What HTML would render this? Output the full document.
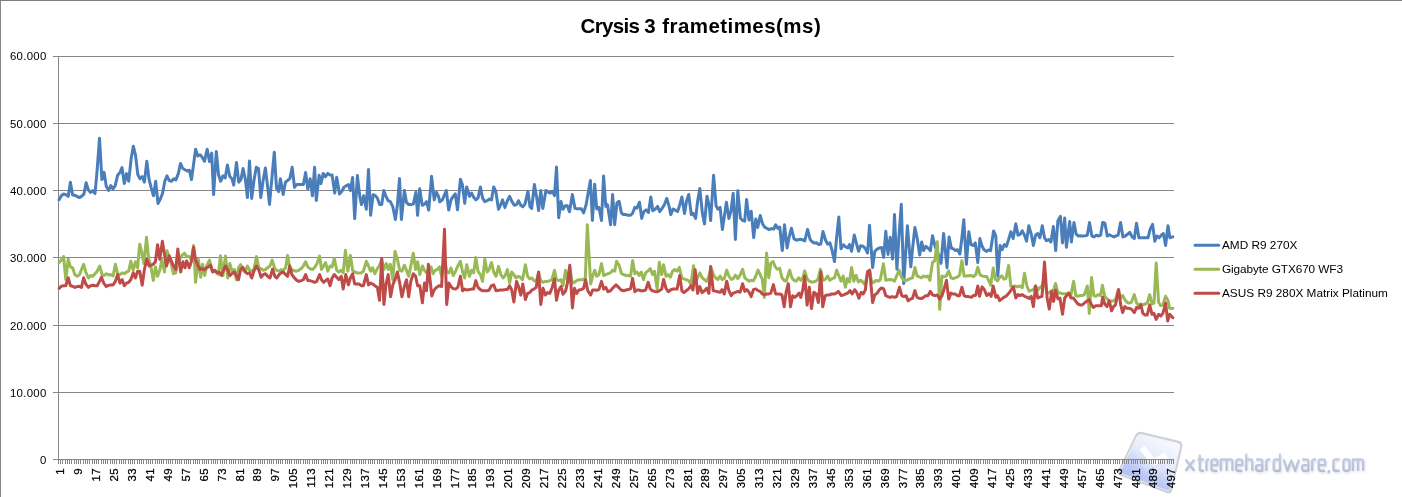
<!DOCTYPE html>
<html><head><meta charset="utf-8"><title>Crysis 3 frametimes(ms)</title>
<style>
html,body{margin:0;padding:0;background:#fff;}
body{width:1402px;height:497px;position:relative;overflow:hidden;font-family:"Liberation Sans",sans-serif;color:#000;}
#bt{position:absolute;left:0;top:0;width:1402px;height:1px;background:#7d7d7d;}
#bl{position:absolute;left:0;top:0;width:1px;height:497px;background:#868686;}
#txt{position:absolute;left:0;top:0;width:1402px;height:497px;will-change:transform;}
.tt{position:absolute;top:11.5px;font-weight:bold;font-size:20.5px;line-height:28px;white-space:nowrap;}
.yl{position:absolute;left:0;width:46.6px;text-align:right;font-size:11.4px;line-height:16px;height:16px;letter-spacing:0.3px;margin-right:-0.3px;}
svg{position:absolute;left:0;top:0;}
.grid line{stroke:#868686;stroke-width:1;shape-rendering:crispEdges;}
.ser{fill:none;stroke-width:3;stroke-linejoin:round;stroke-linecap:round;}
.xl text{font-size:11.4px;font-family:"Liberation Sans",sans-serif;fill:#000;stroke:#000;stroke-width:0.25px;letter-spacing:0.5px;}
.lg{position:absolute;left:1222px;font-size:11.8px;line-height:16px;white-space:nowrap;}
</style></head><body>
<svg width="1402" height="497" viewBox="0 0 1402 497">
<defs>
<linearGradient id="ig" gradientUnits="userSpaceOnUse" x1="1166" y1="436" x2="1136" y2="488"><stop offset="0" stop-color="#fafbfe"/><stop offset="0.42" stop-color="#e6ebfb"/><stop offset="0.72" stop-color="#bfcbf5"/><stop offset="1" stop-color="#adbbf0"/></linearGradient>
<linearGradient id="tg" gradientUnits="userSpaceOnUse" x1="0" y1="-6" x2="0" y2="14"><stop offset="0" stop-color="#cbd1e5"/><stop offset="1" stop-color="#b5bbd1"/></linearGradient>
<filter id="sb" x="-10%" y="-10%" width="120%" height="120%"><feGaussianBlur stdDeviation="0.45"/></filter>
<filter id="sb2" x="-10%" y="-30%" width="120%" height="160%"><feGaussianBlur stdDeviation="1.2"/></filter>
</defs>
<g filter="url(#sb)">
<path d="M1135.1,435.4 Q1137.3,430.9 1142.2,432.1 L1178.5,440.8 Q1183.4,442.0 1182.3,446.9 L1172.3,489.7 Q1171.2,494.6 1166.5,492.9 L1121.0,475.9 Q1116.3,474.2 1118.5,469.7 Z" fill="#cfd0d6"/>
<path d="M1136.8,436.8 Q1138.3,433.6 1141.7,434.4 L1177.2,443.0 Q1180.6,443.8 1179.8,447.2 L1170.2,488.2 Q1169.4,491.6 1166.1,490.4 L1122.9,474.2 Q1119.6,473.0 1121.1,469.8 Z" fill="url(#ig)" stroke="#eef0f8" stroke-width="0.8"/>
<g fill="none" stroke="#ffffff" stroke-width="6.2" stroke-linecap="butt">
<path d="M1142.2,447.6 L1153.8,462.6"/><path d="M1166.2,455.2 L1153.0,462.8"/>
<path d="M1153.8,462.6 L1159.5,472" opacity="0.22"/><path d="M1153.0,462.8 L1144,468.3" opacity="0.18"/>
</g>
</g>
<g fill="none" stroke="#dfe2ee" stroke-width="2.4" stroke-linejoin="round" filter="url(#sb2)" transform="translate(0.8,1.5)"><path transform="translate(1184.5,459)" d="M1.0,0.5 L9.900000000000091,11.75 M9.900000000000091,0.5 L1.0,11.75"/><path transform="translate(1197.4,459)" d="M2.37599999999994,-4.6 L2.37599999999994,9.75 Q2.37599999999994,11.75 4.37599999999994,11.75 L6.499999999999818,11.75 M0.0,0.5 L6.499999999999818,0.5"/><path transform="translate(1205.4,459)" d="M1.0,11.75 L1.0,2.5 Q1.0,0.5 3.0,0.5 L3.7999999999999545,0.5"/><path transform="translate(1210.4,459)" d="M7.0,11.75 L3.0,11.75 Q1.0,11.75 1.0,9.75 L1.0,2.5 Q1.0,0.5 3.0,0.5 L5.0,0.5 Q7.0,0.5 7.0,2.5 L7.0,6.1 L1.0,6.1"/><path transform="translate(1219.8,459)" d="M1.0,11.75 L1.0,0.5 L10.600000000000136,0.5 Q12.600000000000136,0.5 12.600000000000136,2.5 L12.600000000000136,11.75 M6.800000000000068,0.5 L6.800000000000068,11.75"/><path transform="translate(1235.2,459)" d="M7.099999999999909,11.75 L3.0,11.75 Q1.0,11.75 1.0,9.75 L1.0,2.5 Q1.0,0.5 3.0,0.5 L5.099999999999909,0.5 Q7.099999999999909,0.5 7.099999999999909,2.5 L7.099999999999909,6.1 L1.0,6.1"/><path transform="translate(1245.2,459)" d="M1.0,-5.6 L1.0,11.75 M1.0,0.5 L5.099999999999909,0.5 Q7.099999999999909,0.5 7.099999999999909,2.5 L7.099999999999909,11.75"/><path transform="translate(1255.1,459)" d="M1.0,0.5 L5.2000000000000455,0.5 Q7.2000000000000455,0.5 7.2000000000000455,2.5 L7.2000000000000455,11.75 L3.0,11.75 Q1.0,11.75 1.0,9.75 L1.0,8.1 Q1.0,6.1 3.0,6.1 L7.2000000000000455,6.1"/><path transform="translate(1265.3,459)" d="M1.0,11.75 L1.0,2.5 Q1.0,0.5 3.0,0.5 L4.900000000000091,0.5"/><path transform="translate(1272.7,459)" d="M7.2000000000000455,-5.6 L7.2000000000000455,11.75 L3.0,11.75 Q1.0,11.75 1.0,9.75 L1.0,2.5 Q1.0,0.5 3.0,0.5 L7.2000000000000455,0.5"/><path transform="translate(1282.7,459)" d="M1.0,0.5 L4.644000000000013,11.75 L8.600000000000023,1.5 L12.556000000000033,11.75 L16.200000000000045,0.5"/><path transform="translate(1301.2,459)" d="M1.0,0.5 L5.2000000000000455,0.5 Q7.2000000000000455,0.5 7.2000000000000455,2.5 L7.2000000000000455,11.75 L3.0,11.75 Q1.0,11.75 1.0,9.75 L1.0,8.1 Q1.0,6.1 3.0,6.1 L7.2000000000000455,6.1"/><path transform="translate(1311.2,459)" d="M1.0,11.75 L1.0,2.5 Q1.0,0.5 3.0,0.5 L4.899999999999864,0.5"/><path transform="translate(1317.7,459)" d="M7.399999999999864,11.75 L3.0,11.75 Q1.0,11.75 1.0,9.75 L1.0,2.5 Q1.0,0.5 3.0,0.5 L5.399999999999864,0.5 Q7.399999999999864,0.5 7.399999999999864,2.5 L7.399999999999864,6.1 L1.0,6.1"/><path transform="translate(1327.3,459)" d="M1.5500000000000682,11.15 L1.5500000000000682,12.15 L0.7500000000000682,13.95"/><path transform="translate(1332.4,459)" d="M7.199999999999818,0.5 L3.0,0.5 Q1.0,0.5 1.0,2.5 L1.0,9.75 Q1.0,11.75 3.0,11.75 L7.199999999999818,11.75"/><path transform="translate(1342.4,459)" d="M3.0,0.5 L5.099999999999909,0.5 Q7.099999999999909,0.5 7.099999999999909,2.5 L7.099999999999909,9.75 Q7.099999999999909,11.75 5.099999999999909,11.75 L3.0,11.75 Q1.0,11.75 1.0,9.75 L1.0,2.5 Q1.0,0.5 3.0,0.5 Z"/><path transform="translate(1351.9,459)" d="M1.0,11.75 L1.0,0.5 L9.199999999999818,0.5 Q11.199999999999818,0.5 11.199999999999818,2.5 L11.199999999999818,11.75 M6.099999999999909,0.5 L6.099999999999909,11.75"/></g>
<g fill="none" stroke="url(#tg)" stroke-width="2.3" stroke-linejoin="round" stroke-linecap="butt" filter="url(#sb)"><path transform="translate(1184.5,459)" d="M1.0,0.5 L9.900000000000091,11.75 M9.900000000000091,0.5 L1.0,11.75"/><path transform="translate(1197.4,459)" d="M2.37599999999994,-4.6 L2.37599999999994,9.75 Q2.37599999999994,11.75 4.37599999999994,11.75 L6.499999999999818,11.75 M0.0,0.5 L6.499999999999818,0.5"/><path transform="translate(1205.4,459)" d="M1.0,11.75 L1.0,2.5 Q1.0,0.5 3.0,0.5 L3.7999999999999545,0.5"/><path transform="translate(1210.4,459)" d="M7.0,11.75 L3.0,11.75 Q1.0,11.75 1.0,9.75 L1.0,2.5 Q1.0,0.5 3.0,0.5 L5.0,0.5 Q7.0,0.5 7.0,2.5 L7.0,6.1 L1.0,6.1"/><path transform="translate(1219.8,459)" d="M1.0,11.75 L1.0,0.5 L10.600000000000136,0.5 Q12.600000000000136,0.5 12.600000000000136,2.5 L12.600000000000136,11.75 M6.800000000000068,0.5 L6.800000000000068,11.75"/><path transform="translate(1235.2,459)" d="M7.099999999999909,11.75 L3.0,11.75 Q1.0,11.75 1.0,9.75 L1.0,2.5 Q1.0,0.5 3.0,0.5 L5.099999999999909,0.5 Q7.099999999999909,0.5 7.099999999999909,2.5 L7.099999999999909,6.1 L1.0,6.1"/><path transform="translate(1245.2,459)" d="M1.0,-5.6 L1.0,11.75 M1.0,0.5 L5.099999999999909,0.5 Q7.099999999999909,0.5 7.099999999999909,2.5 L7.099999999999909,11.75"/><path transform="translate(1255.1,459)" d="M1.0,0.5 L5.2000000000000455,0.5 Q7.2000000000000455,0.5 7.2000000000000455,2.5 L7.2000000000000455,11.75 L3.0,11.75 Q1.0,11.75 1.0,9.75 L1.0,8.1 Q1.0,6.1 3.0,6.1 L7.2000000000000455,6.1"/><path transform="translate(1265.3,459)" d="M1.0,11.75 L1.0,2.5 Q1.0,0.5 3.0,0.5 L4.900000000000091,0.5"/><path transform="translate(1272.7,459)" d="M7.2000000000000455,-5.6 L7.2000000000000455,11.75 L3.0,11.75 Q1.0,11.75 1.0,9.75 L1.0,2.5 Q1.0,0.5 3.0,0.5 L7.2000000000000455,0.5"/><path transform="translate(1282.7,459)" d="M1.0,0.5 L4.644000000000013,11.75 L8.600000000000023,1.5 L12.556000000000033,11.75 L16.200000000000045,0.5"/><path transform="translate(1301.2,459)" d="M1.0,0.5 L5.2000000000000455,0.5 Q7.2000000000000455,0.5 7.2000000000000455,2.5 L7.2000000000000455,11.75 L3.0,11.75 Q1.0,11.75 1.0,9.75 L1.0,8.1 Q1.0,6.1 3.0,6.1 L7.2000000000000455,6.1"/><path transform="translate(1311.2,459)" d="M1.0,11.75 L1.0,2.5 Q1.0,0.5 3.0,0.5 L4.899999999999864,0.5"/><path transform="translate(1317.7,459)" d="M7.399999999999864,11.75 L3.0,11.75 Q1.0,11.75 1.0,9.75 L1.0,2.5 Q1.0,0.5 3.0,0.5 L5.399999999999864,0.5 Q7.399999999999864,0.5 7.399999999999864,2.5 L7.399999999999864,6.1 L1.0,6.1"/><path transform="translate(1327.3,459)" d="M1.5500000000000682,11.15 L1.5500000000000682,12.15 L0.7500000000000682,13.95"/><path transform="translate(1332.4,459)" d="M7.199999999999818,0.5 L3.0,0.5 Q1.0,0.5 1.0,2.5 L1.0,9.75 Q1.0,11.75 3.0,11.75 L7.199999999999818,11.75"/><path transform="translate(1342.4,459)" d="M3.0,0.5 L5.099999999999909,0.5 Q7.099999999999909,0.5 7.099999999999909,2.5 L7.099999999999909,9.75 Q7.099999999999909,11.75 5.099999999999909,11.75 L3.0,11.75 Q1.0,11.75 1.0,9.75 L1.0,2.5 Q1.0,0.5 3.0,0.5 Z"/><path transform="translate(1351.9,459)" d="M1.0,11.75 L1.0,0.5 L9.199999999999818,0.5 Q11.199999999999818,0.5 11.199999999999818,2.5 L11.199999999999818,11.75 M6.099999999999909,0.5 L6.099999999999909,11.75"/></g>
<g class="grid"><line x1="53" x2="1174" y1="56.5" y2="56.5"/><line x1="53" x2="1174" y1="123.5" y2="123.5"/><line x1="53" x2="1174" y1="190.5" y2="190.5"/><line x1="53" x2="1174" y1="257.5" y2="257.5"/><line x1="53" x2="1174" y1="325.5" y2="325.5"/><line x1="53" x2="1174" y1="392.5" y2="392.5"/><line x1="53" x2="1174" y1="459.5" y2="459.5"/><line x1="58.5" x2="58.5" y1="56" y2="464"/><line x1="58.50" x2="58.50" y1="459" y2="464"/><line x1="60.74" x2="60.74" y1="459" y2="464"/><line x1="62.99" x2="62.99" y1="459" y2="464"/><line x1="65.23" x2="65.23" y1="459" y2="464"/><line x1="67.48" x2="67.48" y1="459" y2="464"/><line x1="69.72" x2="69.72" y1="459" y2="464"/><line x1="71.96" x2="71.96" y1="459" y2="464"/><line x1="74.21" x2="74.21" y1="459" y2="464"/><line x1="76.45" x2="76.45" y1="459" y2="464"/><line x1="78.70" x2="78.70" y1="459" y2="464"/><line x1="80.94" x2="80.94" y1="459" y2="464"/><line x1="83.19" x2="83.19" y1="459" y2="464"/><line x1="85.43" x2="85.43" y1="459" y2="464"/><line x1="87.67" x2="87.67" y1="459" y2="464"/><line x1="89.92" x2="89.92" y1="459" y2="464"/><line x1="92.16" x2="92.16" y1="459" y2="464"/><line x1="94.41" x2="94.41" y1="459" y2="464"/><line x1="96.65" x2="96.65" y1="459" y2="464"/><line x1="98.89" x2="98.89" y1="459" y2="464"/><line x1="101.14" x2="101.14" y1="459" y2="464"/><line x1="103.38" x2="103.38" y1="459" y2="464"/><line x1="105.63" x2="105.63" y1="459" y2="464"/><line x1="107.87" x2="107.87" y1="459" y2="464"/><line x1="110.11" x2="110.11" y1="459" y2="464"/><line x1="112.36" x2="112.36" y1="459" y2="464"/><line x1="114.60" x2="114.60" y1="459" y2="464"/><line x1="116.85" x2="116.85" y1="459" y2="464"/><line x1="119.09" x2="119.09" y1="459" y2="464"/><line x1="121.33" x2="121.33" y1="459" y2="464"/><line x1="123.58" x2="123.58" y1="459" y2="464"/><line x1="125.82" x2="125.82" y1="459" y2="464"/><line x1="128.07" x2="128.07" y1="459" y2="464"/><line x1="130.31" x2="130.31" y1="459" y2="464"/><line x1="132.56" x2="132.56" y1="459" y2="464"/><line x1="134.80" x2="134.80" y1="459" y2="464"/><line x1="137.04" x2="137.04" y1="459" y2="464"/><line x1="139.29" x2="139.29" y1="459" y2="464"/><line x1="141.53" x2="141.53" y1="459" y2="464"/><line x1="143.78" x2="143.78" y1="459" y2="464"/><line x1="146.02" x2="146.02" y1="459" y2="464"/><line x1="148.26" x2="148.26" y1="459" y2="464"/><line x1="150.51" x2="150.51" y1="459" y2="464"/><line x1="152.75" x2="152.75" y1="459" y2="464"/><line x1="155.00" x2="155.00" y1="459" y2="464"/><line x1="157.24" x2="157.24" y1="459" y2="464"/><line x1="159.48" x2="159.48" y1="459" y2="464"/><line x1="161.73" x2="161.73" y1="459" y2="464"/><line x1="163.97" x2="163.97" y1="459" y2="464"/><line x1="166.22" x2="166.22" y1="459" y2="464"/><line x1="168.46" x2="168.46" y1="459" y2="464"/><line x1="170.70" x2="170.70" y1="459" y2="464"/><line x1="172.95" x2="172.95" y1="459" y2="464"/><line x1="175.19" x2="175.19" y1="459" y2="464"/><line x1="177.44" x2="177.44" y1="459" y2="464"/><line x1="179.68" x2="179.68" y1="459" y2="464"/><line x1="181.93" x2="181.93" y1="459" y2="464"/><line x1="184.17" x2="184.17" y1="459" y2="464"/><line x1="186.41" x2="186.41" y1="459" y2="464"/><line x1="188.66" x2="188.66" y1="459" y2="464"/><line x1="190.90" x2="190.90" y1="459" y2="464"/><line x1="193.15" x2="193.15" y1="459" y2="464"/><line x1="195.39" x2="195.39" y1="459" y2="464"/><line x1="197.63" x2="197.63" y1="459" y2="464"/><line x1="199.88" x2="199.88" y1="459" y2="464"/><line x1="202.12" x2="202.12" y1="459" y2="464"/><line x1="204.37" x2="204.37" y1="459" y2="464"/><line x1="206.61" x2="206.61" y1="459" y2="464"/><line x1="208.85" x2="208.85" y1="459" y2="464"/><line x1="211.10" x2="211.10" y1="459" y2="464"/><line x1="213.34" x2="213.34" y1="459" y2="464"/><line x1="215.59" x2="215.59" y1="459" y2="464"/><line x1="217.83" x2="217.83" y1="459" y2="464"/><line x1="220.08" x2="220.08" y1="459" y2="464"/><line x1="222.32" x2="222.32" y1="459" y2="464"/><line x1="224.56" x2="224.56" y1="459" y2="464"/><line x1="226.81" x2="226.81" y1="459" y2="464"/><line x1="229.05" x2="229.05" y1="459" y2="464"/><line x1="231.30" x2="231.30" y1="459" y2="464"/><line x1="233.54" x2="233.54" y1="459" y2="464"/><line x1="235.78" x2="235.78" y1="459" y2="464"/><line x1="238.03" x2="238.03" y1="459" y2="464"/><line x1="240.27" x2="240.27" y1="459" y2="464"/><line x1="242.52" x2="242.52" y1="459" y2="464"/><line x1="244.76" x2="244.76" y1="459" y2="464"/><line x1="247.00" x2="247.00" y1="459" y2="464"/><line x1="249.25" x2="249.25" y1="459" y2="464"/><line x1="251.49" x2="251.49" y1="459" y2="464"/><line x1="253.74" x2="253.74" y1="459" y2="464"/><line x1="255.98" x2="255.98" y1="459" y2="464"/><line x1="258.22" x2="258.22" y1="459" y2="464"/><line x1="260.47" x2="260.47" y1="459" y2="464"/><line x1="262.71" x2="262.71" y1="459" y2="464"/><line x1="264.96" x2="264.96" y1="459" y2="464"/><line x1="267.20" x2="267.20" y1="459" y2="464"/><line x1="269.45" x2="269.45" y1="459" y2="464"/><line x1="271.69" x2="271.69" y1="459" y2="464"/><line x1="273.93" x2="273.93" y1="459" y2="464"/><line x1="276.18" x2="276.18" y1="459" y2="464"/><line x1="278.42" x2="278.42" y1="459" y2="464"/><line x1="280.67" x2="280.67" y1="459" y2="464"/><line x1="282.91" x2="282.91" y1="459" y2="464"/><line x1="285.15" x2="285.15" y1="459" y2="464"/><line x1="287.40" x2="287.40" y1="459" y2="464"/><line x1="289.64" x2="289.64" y1="459" y2="464"/><line x1="291.89" x2="291.89" y1="459" y2="464"/><line x1="294.13" x2="294.13" y1="459" y2="464"/><line x1="296.37" x2="296.37" y1="459" y2="464"/><line x1="298.62" x2="298.62" y1="459" y2="464"/><line x1="300.86" x2="300.86" y1="459" y2="464"/><line x1="303.11" x2="303.11" y1="459" y2="464"/><line x1="305.35" x2="305.35" y1="459" y2="464"/><line x1="307.60" x2="307.60" y1="459" y2="464"/><line x1="309.84" x2="309.84" y1="459" y2="464"/><line x1="312.08" x2="312.08" y1="459" y2="464"/><line x1="314.33" x2="314.33" y1="459" y2="464"/><line x1="316.57" x2="316.57" y1="459" y2="464"/><line x1="318.82" x2="318.82" y1="459" y2="464"/><line x1="321.06" x2="321.06" y1="459" y2="464"/><line x1="323.30" x2="323.30" y1="459" y2="464"/><line x1="325.55" x2="325.55" y1="459" y2="464"/><line x1="327.79" x2="327.79" y1="459" y2="464"/><line x1="330.04" x2="330.04" y1="459" y2="464"/><line x1="332.28" x2="332.28" y1="459" y2="464"/><line x1="334.52" x2="334.52" y1="459" y2="464"/><line x1="336.77" x2="336.77" y1="459" y2="464"/><line x1="339.01" x2="339.01" y1="459" y2="464"/><line x1="341.26" x2="341.26" y1="459" y2="464"/><line x1="343.50" x2="343.50" y1="459" y2="464"/><line x1="345.74" x2="345.74" y1="459" y2="464"/><line x1="347.99" x2="347.99" y1="459" y2="464"/><line x1="350.23" x2="350.23" y1="459" y2="464"/><line x1="352.48" x2="352.48" y1="459" y2="464"/><line x1="354.72" x2="354.72" y1="459" y2="464"/><line x1="356.97" x2="356.97" y1="459" y2="464"/><line x1="359.21" x2="359.21" y1="459" y2="464"/><line x1="361.45" x2="361.45" y1="459" y2="464"/><line x1="363.70" x2="363.70" y1="459" y2="464"/><line x1="365.94" x2="365.94" y1="459" y2="464"/><line x1="368.19" x2="368.19" y1="459" y2="464"/><line x1="370.43" x2="370.43" y1="459" y2="464"/><line x1="372.67" x2="372.67" y1="459" y2="464"/><line x1="374.92" x2="374.92" y1="459" y2="464"/><line x1="377.16" x2="377.16" y1="459" y2="464"/><line x1="379.41" x2="379.41" y1="459" y2="464"/><line x1="381.65" x2="381.65" y1="459" y2="464"/><line x1="383.89" x2="383.89" y1="459" y2="464"/><line x1="386.14" x2="386.14" y1="459" y2="464"/><line x1="388.38" x2="388.38" y1="459" y2="464"/><line x1="390.63" x2="390.63" y1="459" y2="464"/><line x1="392.87" x2="392.87" y1="459" y2="464"/><line x1="395.12" x2="395.12" y1="459" y2="464"/><line x1="397.36" x2="397.36" y1="459" y2="464"/><line x1="399.60" x2="399.60" y1="459" y2="464"/><line x1="401.85" x2="401.85" y1="459" y2="464"/><line x1="404.09" x2="404.09" y1="459" y2="464"/><line x1="406.34" x2="406.34" y1="459" y2="464"/><line x1="408.58" x2="408.58" y1="459" y2="464"/><line x1="410.82" x2="410.82" y1="459" y2="464"/><line x1="413.07" x2="413.07" y1="459" y2="464"/><line x1="415.31" x2="415.31" y1="459" y2="464"/><line x1="417.56" x2="417.56" y1="459" y2="464"/><line x1="419.80" x2="419.80" y1="459" y2="464"/><line x1="422.04" x2="422.04" y1="459" y2="464"/><line x1="424.29" x2="424.29" y1="459" y2="464"/><line x1="426.53" x2="426.53" y1="459" y2="464"/><line x1="428.78" x2="428.78" y1="459" y2="464"/><line x1="431.02" x2="431.02" y1="459" y2="464"/><line x1="433.26" x2="433.26" y1="459" y2="464"/><line x1="435.51" x2="435.51" y1="459" y2="464"/><line x1="437.75" x2="437.75" y1="459" y2="464"/><line x1="440.00" x2="440.00" y1="459" y2="464"/><line x1="442.24" x2="442.24" y1="459" y2="464"/><line x1="444.49" x2="444.49" y1="459" y2="464"/><line x1="446.73" x2="446.73" y1="459" y2="464"/><line x1="448.97" x2="448.97" y1="459" y2="464"/><line x1="451.22" x2="451.22" y1="459" y2="464"/><line x1="453.46" x2="453.46" y1="459" y2="464"/><line x1="455.71" x2="455.71" y1="459" y2="464"/><line x1="457.95" x2="457.95" y1="459" y2="464"/><line x1="460.19" x2="460.19" y1="459" y2="464"/><line x1="462.44" x2="462.44" y1="459" y2="464"/><line x1="464.68" x2="464.68" y1="459" y2="464"/><line x1="466.93" x2="466.93" y1="459" y2="464"/><line x1="469.17" x2="469.17" y1="459" y2="464"/><line x1="471.41" x2="471.41" y1="459" y2="464"/><line x1="473.66" x2="473.66" y1="459" y2="464"/><line x1="475.90" x2="475.90" y1="459" y2="464"/><line x1="478.15" x2="478.15" y1="459" y2="464"/><line x1="480.39" x2="480.39" y1="459" y2="464"/><line x1="482.63" x2="482.63" y1="459" y2="464"/><line x1="484.88" x2="484.88" y1="459" y2="464"/><line x1="487.12" x2="487.12" y1="459" y2="464"/><line x1="489.37" x2="489.37" y1="459" y2="464"/><line x1="491.61" x2="491.61" y1="459" y2="464"/><line x1="493.86" x2="493.86" y1="459" y2="464"/><line x1="496.10" x2="496.10" y1="459" y2="464"/><line x1="498.34" x2="498.34" y1="459" y2="464"/><line x1="500.59" x2="500.59" y1="459" y2="464"/><line x1="502.83" x2="502.83" y1="459" y2="464"/><line x1="505.08" x2="505.08" y1="459" y2="464"/><line x1="507.32" x2="507.32" y1="459" y2="464"/><line x1="509.56" x2="509.56" y1="459" y2="464"/><line x1="511.81" x2="511.81" y1="459" y2="464"/><line x1="514.05" x2="514.05" y1="459" y2="464"/><line x1="516.30" x2="516.30" y1="459" y2="464"/><line x1="518.54" x2="518.54" y1="459" y2="464"/><line x1="520.78" x2="520.78" y1="459" y2="464"/><line x1="523.03" x2="523.03" y1="459" y2="464"/><line x1="525.27" x2="525.27" y1="459" y2="464"/><line x1="527.52" x2="527.52" y1="459" y2="464"/><line x1="529.76" x2="529.76" y1="459" y2="464"/><line x1="532.01" x2="532.01" y1="459" y2="464"/><line x1="534.25" x2="534.25" y1="459" y2="464"/><line x1="536.49" x2="536.49" y1="459" y2="464"/><line x1="538.74" x2="538.74" y1="459" y2="464"/><line x1="540.98" x2="540.98" y1="459" y2="464"/><line x1="543.23" x2="543.23" y1="459" y2="464"/><line x1="545.47" x2="545.47" y1="459" y2="464"/><line x1="547.71" x2="547.71" y1="459" y2="464"/><line x1="549.96" x2="549.96" y1="459" y2="464"/><line x1="552.20" x2="552.20" y1="459" y2="464"/><line x1="554.45" x2="554.45" y1="459" y2="464"/><line x1="556.69" x2="556.69" y1="459" y2="464"/><line x1="558.93" x2="558.93" y1="459" y2="464"/><line x1="561.18" x2="561.18" y1="459" y2="464"/><line x1="563.42" x2="563.42" y1="459" y2="464"/><line x1="565.67" x2="565.67" y1="459" y2="464"/><line x1="567.91" x2="567.91" y1="459" y2="464"/><line x1="570.15" x2="570.15" y1="459" y2="464"/><line x1="572.40" x2="572.40" y1="459" y2="464"/><line x1="574.64" x2="574.64" y1="459" y2="464"/><line x1="576.89" x2="576.89" y1="459" y2="464"/><line x1="579.13" x2="579.13" y1="459" y2="464"/><line x1="581.38" x2="581.38" y1="459" y2="464"/><line x1="583.62" x2="583.62" y1="459" y2="464"/><line x1="585.86" x2="585.86" y1="459" y2="464"/><line x1="588.11" x2="588.11" y1="459" y2="464"/><line x1="590.35" x2="590.35" y1="459" y2="464"/><line x1="592.60" x2="592.60" y1="459" y2="464"/><line x1="594.84" x2="594.84" y1="459" y2="464"/><line x1="597.08" x2="597.08" y1="459" y2="464"/><line x1="599.33" x2="599.33" y1="459" y2="464"/><line x1="601.57" x2="601.57" y1="459" y2="464"/><line x1="603.82" x2="603.82" y1="459" y2="464"/><line x1="606.06" x2="606.06" y1="459" y2="464"/><line x1="608.30" x2="608.30" y1="459" y2="464"/><line x1="610.55" x2="610.55" y1="459" y2="464"/><line x1="612.79" x2="612.79" y1="459" y2="464"/><line x1="615.04" x2="615.04" y1="459" y2="464"/><line x1="617.28" x2="617.28" y1="459" y2="464"/><line x1="619.52" x2="619.52" y1="459" y2="464"/><line x1="621.77" x2="621.77" y1="459" y2="464"/><line x1="624.01" x2="624.01" y1="459" y2="464"/><line x1="626.26" x2="626.26" y1="459" y2="464"/><line x1="628.50" x2="628.50" y1="459" y2="464"/><line x1="630.75" x2="630.75" y1="459" y2="464"/><line x1="632.99" x2="632.99" y1="459" y2="464"/><line x1="635.23" x2="635.23" y1="459" y2="464"/><line x1="637.48" x2="637.48" y1="459" y2="464"/><line x1="639.72" x2="639.72" y1="459" y2="464"/><line x1="641.97" x2="641.97" y1="459" y2="464"/><line x1="644.21" x2="644.21" y1="459" y2="464"/><line x1="646.45" x2="646.45" y1="459" y2="464"/><line x1="648.70" x2="648.70" y1="459" y2="464"/><line x1="650.94" x2="650.94" y1="459" y2="464"/><line x1="653.19" x2="653.19" y1="459" y2="464"/><line x1="655.43" x2="655.43" y1="459" y2="464"/><line x1="657.67" x2="657.67" y1="459" y2="464"/><line x1="659.92" x2="659.92" y1="459" y2="464"/><line x1="662.16" x2="662.16" y1="459" y2="464"/><line x1="664.41" x2="664.41" y1="459" y2="464"/><line x1="666.65" x2="666.65" y1="459" y2="464"/><line x1="668.90" x2="668.90" y1="459" y2="464"/><line x1="671.14" x2="671.14" y1="459" y2="464"/><line x1="673.38" x2="673.38" y1="459" y2="464"/><line x1="675.63" x2="675.63" y1="459" y2="464"/><line x1="677.87" x2="677.87" y1="459" y2="464"/><line x1="680.12" x2="680.12" y1="459" y2="464"/><line x1="682.36" x2="682.36" y1="459" y2="464"/><line x1="684.60" x2="684.60" y1="459" y2="464"/><line x1="686.85" x2="686.85" y1="459" y2="464"/><line x1="689.09" x2="689.09" y1="459" y2="464"/><line x1="691.34" x2="691.34" y1="459" y2="464"/><line x1="693.58" x2="693.58" y1="459" y2="464"/><line x1="695.82" x2="695.82" y1="459" y2="464"/><line x1="698.07" x2="698.07" y1="459" y2="464"/><line x1="700.31" x2="700.31" y1="459" y2="464"/><line x1="702.56" x2="702.56" y1="459" y2="464"/><line x1="704.80" x2="704.80" y1="459" y2="464"/><line x1="707.04" x2="707.04" y1="459" y2="464"/><line x1="709.29" x2="709.29" y1="459" y2="464"/><line x1="711.53" x2="711.53" y1="459" y2="464"/><line x1="713.78" x2="713.78" y1="459" y2="464"/><line x1="716.02" x2="716.02" y1="459" y2="464"/><line x1="718.27" x2="718.27" y1="459" y2="464"/><line x1="720.51" x2="720.51" y1="459" y2="464"/><line x1="722.75" x2="722.75" y1="459" y2="464"/><line x1="725.00" x2="725.00" y1="459" y2="464"/><line x1="727.24" x2="727.24" y1="459" y2="464"/><line x1="729.49" x2="729.49" y1="459" y2="464"/><line x1="731.73" x2="731.73" y1="459" y2="464"/><line x1="733.97" x2="733.97" y1="459" y2="464"/><line x1="736.22" x2="736.22" y1="459" y2="464"/><line x1="738.46" x2="738.46" y1="459" y2="464"/><line x1="740.71" x2="740.71" y1="459" y2="464"/><line x1="742.95" x2="742.95" y1="459" y2="464"/><line x1="745.19" x2="745.19" y1="459" y2="464"/><line x1="747.44" x2="747.44" y1="459" y2="464"/><line x1="749.68" x2="749.68" y1="459" y2="464"/><line x1="751.93" x2="751.93" y1="459" y2="464"/><line x1="754.17" x2="754.17" y1="459" y2="464"/><line x1="756.42" x2="756.42" y1="459" y2="464"/><line x1="758.66" x2="758.66" y1="459" y2="464"/><line x1="760.90" x2="760.90" y1="459" y2="464"/><line x1="763.15" x2="763.15" y1="459" y2="464"/><line x1="765.39" x2="765.39" y1="459" y2="464"/><line x1="767.64" x2="767.64" y1="459" y2="464"/><line x1="769.88" x2="769.88" y1="459" y2="464"/><line x1="772.12" x2="772.12" y1="459" y2="464"/><line x1="774.37" x2="774.37" y1="459" y2="464"/><line x1="776.61" x2="776.61" y1="459" y2="464"/><line x1="778.86" x2="778.86" y1="459" y2="464"/><line x1="781.10" x2="781.10" y1="459" y2="464"/><line x1="783.34" x2="783.34" y1="459" y2="464"/><line x1="785.59" x2="785.59" y1="459" y2="464"/><line x1="787.83" x2="787.83" y1="459" y2="464"/><line x1="790.08" x2="790.08" y1="459" y2="464"/><line x1="792.32" x2="792.32" y1="459" y2="464"/><line x1="794.56" x2="794.56" y1="459" y2="464"/><line x1="796.81" x2="796.81" y1="459" y2="464"/><line x1="799.05" x2="799.05" y1="459" y2="464"/><line x1="801.30" x2="801.30" y1="459" y2="464"/><line x1="803.54" x2="803.54" y1="459" y2="464"/><line x1="805.79" x2="805.79" y1="459" y2="464"/><line x1="808.03" x2="808.03" y1="459" y2="464"/><line x1="810.27" x2="810.27" y1="459" y2="464"/><line x1="812.52" x2="812.52" y1="459" y2="464"/><line x1="814.76" x2="814.76" y1="459" y2="464"/><line x1="817.01" x2="817.01" y1="459" y2="464"/><line x1="819.25" x2="819.25" y1="459" y2="464"/><line x1="821.49" x2="821.49" y1="459" y2="464"/><line x1="823.74" x2="823.74" y1="459" y2="464"/><line x1="825.98" x2="825.98" y1="459" y2="464"/><line x1="828.23" x2="828.23" y1="459" y2="464"/><line x1="830.47" x2="830.47" y1="459" y2="464"/><line x1="832.71" x2="832.71" y1="459" y2="464"/><line x1="834.96" x2="834.96" y1="459" y2="464"/><line x1="837.20" x2="837.20" y1="459" y2="464"/><line x1="839.45" x2="839.45" y1="459" y2="464"/><line x1="841.69" x2="841.69" y1="459" y2="464"/><line x1="843.93" x2="843.93" y1="459" y2="464"/><line x1="846.18" x2="846.18" y1="459" y2="464"/><line x1="848.42" x2="848.42" y1="459" y2="464"/><line x1="850.67" x2="850.67" y1="459" y2="464"/><line x1="852.91" x2="852.91" y1="459" y2="464"/><line x1="855.16" x2="855.16" y1="459" y2="464"/><line x1="857.40" x2="857.40" y1="459" y2="464"/><line x1="859.64" x2="859.64" y1="459" y2="464"/><line x1="861.89" x2="861.89" y1="459" y2="464"/><line x1="864.13" x2="864.13" y1="459" y2="464"/><line x1="866.38" x2="866.38" y1="459" y2="464"/><line x1="868.62" x2="868.62" y1="459" y2="464"/><line x1="870.86" x2="870.86" y1="459" y2="464"/><line x1="873.11" x2="873.11" y1="459" y2="464"/><line x1="875.35" x2="875.35" y1="459" y2="464"/><line x1="877.60" x2="877.60" y1="459" y2="464"/><line x1="879.84" x2="879.84" y1="459" y2="464"/><line x1="882.08" x2="882.08" y1="459" y2="464"/><line x1="884.33" x2="884.33" y1="459" y2="464"/><line x1="886.57" x2="886.57" y1="459" y2="464"/><line x1="888.82" x2="888.82" y1="459" y2="464"/><line x1="891.06" x2="891.06" y1="459" y2="464"/><line x1="893.31" x2="893.31" y1="459" y2="464"/><line x1="895.55" x2="895.55" y1="459" y2="464"/><line x1="897.79" x2="897.79" y1="459" y2="464"/><line x1="900.04" x2="900.04" y1="459" y2="464"/><line x1="902.28" x2="902.28" y1="459" y2="464"/><line x1="904.53" x2="904.53" y1="459" y2="464"/><line x1="906.77" x2="906.77" y1="459" y2="464"/><line x1="909.01" x2="909.01" y1="459" y2="464"/><line x1="911.26" x2="911.26" y1="459" y2="464"/><line x1="913.50" x2="913.50" y1="459" y2="464"/><line x1="915.75" x2="915.75" y1="459" y2="464"/><line x1="917.99" x2="917.99" y1="459" y2="464"/><line x1="920.23" x2="920.23" y1="459" y2="464"/><line x1="922.48" x2="922.48" y1="459" y2="464"/><line x1="924.72" x2="924.72" y1="459" y2="464"/><line x1="926.97" x2="926.97" y1="459" y2="464"/><line x1="929.21" x2="929.21" y1="459" y2="464"/><line x1="931.45" x2="931.45" y1="459" y2="464"/><line x1="933.70" x2="933.70" y1="459" y2="464"/><line x1="935.94" x2="935.94" y1="459" y2="464"/><line x1="938.19" x2="938.19" y1="459" y2="464"/><line x1="940.43" x2="940.43" y1="459" y2="464"/><line x1="942.68" x2="942.68" y1="459" y2="464"/><line x1="944.92" x2="944.92" y1="459" y2="464"/><line x1="947.16" x2="947.16" y1="459" y2="464"/><line x1="949.41" x2="949.41" y1="459" y2="464"/><line x1="951.65" x2="951.65" y1="459" y2="464"/><line x1="953.90" x2="953.90" y1="459" y2="464"/><line x1="956.14" x2="956.14" y1="459" y2="464"/><line x1="958.38" x2="958.38" y1="459" y2="464"/><line x1="960.63" x2="960.63" y1="459" y2="464"/><line x1="962.87" x2="962.87" y1="459" y2="464"/><line x1="965.12" x2="965.12" y1="459" y2="464"/><line x1="967.36" x2="967.36" y1="459" y2="464"/><line x1="969.60" x2="969.60" y1="459" y2="464"/><line x1="971.85" x2="971.85" y1="459" y2="464"/><line x1="974.09" x2="974.09" y1="459" y2="464"/><line x1="976.34" x2="976.34" y1="459" y2="464"/><line x1="978.58" x2="978.58" y1="459" y2="464"/><line x1="980.83" x2="980.83" y1="459" y2="464"/><line x1="983.07" x2="983.07" y1="459" y2="464"/><line x1="985.31" x2="985.31" y1="459" y2="464"/><line x1="987.56" x2="987.56" y1="459" y2="464"/><line x1="989.80" x2="989.80" y1="459" y2="464"/><line x1="992.05" x2="992.05" y1="459" y2="464"/><line x1="994.29" x2="994.29" y1="459" y2="464"/><line x1="996.53" x2="996.53" y1="459" y2="464"/><line x1="998.78" x2="998.78" y1="459" y2="464"/><line x1="1001.02" x2="1001.02" y1="459" y2="464"/><line x1="1003.27" x2="1003.27" y1="459" y2="464"/><line x1="1005.51" x2="1005.51" y1="459" y2="464"/><line x1="1007.75" x2="1007.75" y1="459" y2="464"/><line x1="1010.00" x2="1010.00" y1="459" y2="464"/><line x1="1012.24" x2="1012.24" y1="459" y2="464"/><line x1="1014.49" x2="1014.49" y1="459" y2="464"/><line x1="1016.73" x2="1016.73" y1="459" y2="464"/><line x1="1018.97" x2="1018.97" y1="459" y2="464"/><line x1="1021.22" x2="1021.22" y1="459" y2="464"/><line x1="1023.46" x2="1023.46" y1="459" y2="464"/><line x1="1025.71" x2="1025.71" y1="459" y2="464"/><line x1="1027.95" x2="1027.95" y1="459" y2="464"/><line x1="1030.20" x2="1030.20" y1="459" y2="464"/><line x1="1032.44" x2="1032.44" y1="459" y2="464"/><line x1="1034.68" x2="1034.68" y1="459" y2="464"/><line x1="1036.93" x2="1036.93" y1="459" y2="464"/><line x1="1039.17" x2="1039.17" y1="459" y2="464"/><line x1="1041.42" x2="1041.42" y1="459" y2="464"/><line x1="1043.66" x2="1043.66" y1="459" y2="464"/><line x1="1045.90" x2="1045.90" y1="459" y2="464"/><line x1="1048.15" x2="1048.15" y1="459" y2="464"/><line x1="1050.39" x2="1050.39" y1="459" y2="464"/><line x1="1052.64" x2="1052.64" y1="459" y2="464"/><line x1="1054.88" x2="1054.88" y1="459" y2="464"/><line x1="1057.12" x2="1057.12" y1="459" y2="464"/><line x1="1059.37" x2="1059.37" y1="459" y2="464"/><line x1="1061.61" x2="1061.61" y1="459" y2="464"/><line x1="1063.86" x2="1063.86" y1="459" y2="464"/><line x1="1066.10" x2="1066.10" y1="459" y2="464"/><line x1="1068.35" x2="1068.35" y1="459" y2="464"/><line x1="1070.59" x2="1070.59" y1="459" y2="464"/><line x1="1072.83" x2="1072.83" y1="459" y2="464"/><line x1="1075.08" x2="1075.08" y1="459" y2="464"/><line x1="1077.32" x2="1077.32" y1="459" y2="464"/><line x1="1079.57" x2="1079.57" y1="459" y2="464"/><line x1="1081.81" x2="1081.81" y1="459" y2="464"/><line x1="1084.05" x2="1084.05" y1="459" y2="464"/><line x1="1086.30" x2="1086.30" y1="459" y2="464"/><line x1="1088.54" x2="1088.54" y1="459" y2="464"/><line x1="1090.79" x2="1090.79" y1="459" y2="464"/><line x1="1093.03" x2="1093.03" y1="459" y2="464"/><line x1="1095.27" x2="1095.27" y1="459" y2="464"/><line x1="1097.52" x2="1097.52" y1="459" y2="464"/><line x1="1099.76" x2="1099.76" y1="459" y2="464"/><line x1="1102.01" x2="1102.01" y1="459" y2="464"/><line x1="1104.25" x2="1104.25" y1="459" y2="464"/><line x1="1106.49" x2="1106.49" y1="459" y2="464"/><line x1="1108.74" x2="1108.74" y1="459" y2="464"/><line x1="1110.98" x2="1110.98" y1="459" y2="464"/><line x1="1113.23" x2="1113.23" y1="459" y2="464"/><line x1="1115.47" x2="1115.47" y1="459" y2="464"/><line x1="1117.72" x2="1117.72" y1="459" y2="464"/><line x1="1119.96" x2="1119.96" y1="459" y2="464"/><line x1="1122.20" x2="1122.20" y1="459" y2="464"/><line x1="1124.45" x2="1124.45" y1="459" y2="464"/><line x1="1126.69" x2="1126.69" y1="459" y2="464"/><line x1="1128.94" x2="1128.94" y1="459" y2="464"/><line x1="1131.18" x2="1131.18" y1="459" y2="464"/><line x1="1133.42" x2="1133.42" y1="459" y2="464"/><line x1="1135.67" x2="1135.67" y1="459" y2="464"/><line x1="1137.91" x2="1137.91" y1="459" y2="464"/><line x1="1140.16" x2="1140.16" y1="459" y2="464"/><line x1="1142.40" x2="1142.40" y1="459" y2="464"/><line x1="1144.64" x2="1144.64" y1="459" y2="464"/><line x1="1146.89" x2="1146.89" y1="459" y2="464"/><line x1="1149.13" x2="1149.13" y1="459" y2="464"/><line x1="1151.38" x2="1151.38" y1="459" y2="464"/><line x1="1153.62" x2="1153.62" y1="459" y2="464"/><line x1="1155.86" x2="1155.86" y1="459" y2="464"/><line x1="1158.11" x2="1158.11" y1="459" y2="464"/><line x1="1160.35" x2="1160.35" y1="459" y2="464"/><line x1="1162.60" x2="1162.60" y1="459" y2="464"/><line x1="1164.84" x2="1164.84" y1="459" y2="464"/><line x1="1167.09" x2="1167.09" y1="459" y2="464"/><line x1="1169.33" x2="1169.33" y1="459" y2="464"/><line x1="1171.57" x2="1171.57" y1="459" y2="464"/><line x1="1173.82" x2="1173.82" y1="459" y2="464"/></g>
<polyline class="ser" stroke="#4a7ebb" points="59.1,199.8 61.3,195.8 63.6,194.0 65.8,194.6 68.2,196.4 70.4,182.2 72.6,195.0 74.8,195.3 77.1,196.4 79.3,197.6 81.5,196.4 83.9,194.1 86.1,182.7 88.4,189.9 90.6,192.4 92.8,190.7 95.0,193.6 97.2,169.3 99.5,138.2 101.9,179.6 104.1,172.4 106.3,186.4 108.5,190.4 110.8,185.6 113.0,189.0 115.2,185.6 117.6,175.3 119.8,172.8 122.0,167.6 124.3,183.5 126.5,173.6 128.7,181.3 131.1,159.1 133.3,146.2 135.6,155.7 137.8,174.5 140.0,178.7 142.2,176.5 144.4,182.2 146.8,161.3 149.1,179.6 151.3,188.1 153.5,195.8 155.7,181.3 158.0,203.5 160.2,199.3 162.6,193.3 164.8,181.3 167.0,175.8 169.2,180.5 171.5,181.3 173.7,178.7 175.9,179.9 178.3,173.6 180.5,163.4 182.8,168.5 185.0,169.7 187.2,171.0 189.4,170.2 191.5,179.6 195.6,149.2 197.8,156.0 200.1,154.8 202.3,157.4 204.5,161.3 207.2,149.2 209.5,161.6 211.7,153.1 213.6,194.6 216.3,151.4 218.5,174.5 220.6,181.3 223.0,175.8 225.2,177.9 227.4,165.1 229.8,176.5 232.0,178.7 233.7,185.1 236.5,162.5 238.7,182.2 240.9,179.6 243.1,168.5 245.4,179.6 247.4,197.6 249.5,161.1 251.7,198.4 254.1,179.6 256.3,167.3 258.5,168.5 260.8,197.6 263.0,181.3 265.4,168.0 267.6,186.4 269.5,204.4 271.9,177.9 274.3,152.2 276.5,188.1 278.7,191.6 280.4,178.7 283.2,194.6 285.4,182.2 287.6,180.5 289.8,178.7 292.2,167.3 294.5,187.3 296.7,184.4 298.9,184.4 301.3,184.4 303.4,184.4 305.6,172.4 307.8,189.0 310.2,178.7 312.4,195.8 314.6,167.3 316.3,200.5 319.1,175.3 321.0,183.6 323.2,173.4 325.3,176.8 327.8,173.4 330.1,175.1 332.1,175.1 334.7,193.0 336.7,177.3 339.5,193.9 341.9,191.3 344.1,187.0 348.4,184.5 350.4,190.5 352.6,177.6 354.7,218.7 357.4,175.6 359.8,196.4 361.5,204.6 363.7,195.6 366.3,209.3 368.5,169.4 370.6,215.3 373.1,194.7 375.4,195.6 377.4,198.1 379.6,204.6 381.7,204.6 383.8,190.5 386.0,196.4 388.2,200.7 390.3,201.6 392.8,206.7 395.4,219.5 397.4,205.0 399.5,178.5 401.4,219.5 404.4,190.5 406.5,202.4 408.7,204.6 410.8,204.6 413.3,204.1 415.9,192.2 417.6,215.3 419.7,188.7 422.2,205.3 424.5,204.1 426.5,201.6 428.7,210.1 431.6,176.3 434.2,199.9 436.4,192.2 438.5,196.4 439.8,201.9 442.4,199.9 446.3,190.5 448.7,210.1 451.0,199.9 453.2,196.4 455.3,193.9 457.5,209.8 460.4,179.3 462.4,184.8 464.7,203.3 466.7,187.0 469.5,196.4 471.5,193.0 473.7,197.3 475.8,199.9 478.0,198.1 480.4,187.0 482.6,198.1 484.8,201.6 487.2,200.7 489.5,199.0 491.5,199.9 493.7,187.0 495.8,191.3 498.5,209.3 500.6,205.0 502.6,199.9 504.9,207.6 507.4,200.7 509.6,196.4 512.0,201.6 514.3,205.3 516.5,204.6 518.5,200.7 520.8,205.3 522.8,206.7 525.0,204.1 527.9,191.3 530.0,206.7 531.7,208.4 534.4,184.5 536.5,196.4 538.6,210.5 540.8,190.5 542.8,208.4 545.9,190.5 548.0,192.2 550.2,193.0 552.4,191.3 554.5,195.6 556.5,167.0 558.7,217.8 561.0,201.6 563.0,209.3 565.2,205.8 567.3,205.8 569.5,211.8 572.4,194.4 575.0,208.4 577.0,208.8 579.3,208.8 581.3,208.7 583.6,212.9 586.1,204.7 590.4,180.4 592.4,220.5 594.7,184.2 596.7,209.0 598.9,207.3 601.5,220.5 603.6,176.0 605.8,206.4 607.5,204.7 610.6,224.7 612.6,194.5 614.7,224.7 616.9,203.0 619.1,201.3 621.5,213.3 623.7,214.6 626.0,214.6 628.0,215.3 630.6,215.3 632.6,213.3 634.9,207.3 636.9,208.1 639.5,202.2 641.7,218.4 643.9,211.6 646.0,209.9 648.5,212.4 650.8,197.0 652.8,210.7 655.4,209.0 657.6,206.4 659.7,211.6 662.2,208.1 664.4,204.7 666.8,198.4 669.1,206.4 670.8,214.6 673.0,209.0 675.4,210.2 677.6,211.6 679.8,204.7 681.9,197.0 684.5,213.6 686.5,201.3 688.7,194.5 691.3,214.6 693.0,213.3 695.6,218.4 697.6,201.3 699.8,188.5 702.4,213.3 704.5,223.9 707.0,196.2 709.3,206.4 710.6,220.6 713.6,175.3 716.1,206.0 717.8,209.1 720.1,207.4 722.4,229.6 726.4,202.3 728.9,218.4 731.0,211.2 733.2,193.2 735.4,239.4 737.8,190.7 740.4,218.0 742.6,220.6 744.7,221.1 746.6,199.5 749.0,220.1 751.2,211.2 753.7,237.7 755.8,218.9 757.7,227.4 760.2,215.5 762.6,224.0 764.9,227.4 766.9,228.3 769.1,229.6 771.4,228.6 773.8,229.1 775.6,224.8 777.7,228.2 779.7,227.0 782.3,250.5 784.5,224.8 787.1,247.9 789.2,236.8 791.4,228.2 793.9,238.5 796.0,240.2 798.2,239.7 800.4,239.3 802.5,239.7 804.7,241.0 807.6,229.4 810.2,239.7 812.4,241.9 814.5,243.1 816.5,242.8 818.7,244.5 820.8,244.1 823.0,231.6 825.6,240.2 827.6,244.1 829.9,242.8 831.9,249.6 834.5,261.6 836.7,236.8 838.8,217.1 841.0,248.7 843.5,244.8 845.8,247.0 847.8,247.9 849.5,244.5 851.6,251.3 854.3,235.1 856.7,244.5 858.6,251.3 860.6,245.8 863.2,246.2 865.4,248.7 867.5,253.0 869.5,225.3 872.6,267.6 874.8,251.3 876.9,249.3 879.5,247.9 881.5,247.5 883.7,257.3 885.8,231.3 888.0,254.4 890.2,237.3 892.6,259.0 894.5,214.5 896.9,269.3 899.1,234.2 901.3,204.3 903.7,283.6 907.4,225.8 910.8,266.8 912.8,246.3 914.9,227.5 917.1,237.8 919.7,254.9 921.7,242.0 923.6,250.6 925.7,246.3 927.9,248.0 930.4,250.6 932.5,235.7 935.1,246.3 938.0,253.1 941.0,263.4 943.6,233.5 947.0,267.7 949.1,236.9 951.3,248.0 953.4,248.9 955.6,250.6 957.6,249.7 959.9,254.0 961.9,237.8 963.8,219.8 966.4,264.3 968.8,231.8 971.0,244.6 973.2,245.5 975.3,242.9 977.8,262.6 979.9,238.6 982.1,246.3 984.1,249.7 986.4,251.4 988.4,250.1 990.6,250.6 993.6,230.9 995.8,236.0 997.8,276.2 1000.1,245.5 1002.1,249.7 1004.3,244.6 1006.4,246.3 1008.6,239.5 1010.8,231.8 1013.2,238.6 1015.8,223.7 1018.0,235.2 1020.2,234.3 1022.3,230.9 1024.5,235.2 1026.6,241.2 1028.8,225.8 1031.3,234.3 1033.4,245.5 1035.6,235.2 1037.7,233.5 1039.9,237.8 1042.3,225.8 1044.5,237.8 1046.6,240.8 1048.8,239.5 1050.9,242.0 1053.4,226.6 1055.7,250.6 1057.9,220.7 1060.4,216.4 1062.5,242.9 1064.7,218.1 1066.4,247.2 1069.7,221.5 1071.4,242.0 1074.0,222.4 1076.2,234.3 1078.4,236.0 1080.5,235.7 1082.7,236.0 1085.1,235.7 1087.3,235.2 1089.5,222.4 1091.9,236.0 1094.1,236.9 1096.4,235.2 1098.4,236.0 1100.6,235.2 1102.7,222.4 1104.9,223.2 1107.3,236.0 1109.5,234.7 1111.8,236.0 1113.8,236.9 1116.0,236.0 1118.1,235.2 1120.6,222.4 1122.9,236.9 1125.3,236.0 1127.5,234.3 1129.7,232.3 1132.1,236.9 1134.3,238.6 1136.5,223.2 1138.9,237.8 1141.2,237.8 1143.4,237.8 1145.8,237.8 1148.0,237.8 1150.2,229.2 1152.6,224.4 1154.8,241.2 1156.9,236.0 1159.1,237.8 1161.3,235.2 1163.4,233.5 1165.6,245.5 1168.0,225.8 1169.9,237.8 1172.8,236.9"/>
<polyline class="ser" stroke="#98b954" points="59.1,262.6 61.3,260.1 63.6,256.6 65.8,279.7 68.2,259.2 70.4,266.9 72.6,267.8 74.8,274.6 77.2,276.3 79.5,274.6 81.5,269.5 83.6,264.3 85.8,272.0 88.4,278.0 90.6,275.5 92.8,276.3 95.0,273.7 97.2,271.2 99.8,266.0 102.0,274.6 104.3,275.5 106.3,273.7 108.5,274.9 110.8,274.6 113.1,276.0 115.4,264.3 117.6,273.7 120.0,274.6 122.2,272.9 124.3,273.7 126.5,272.0 128.7,271.2 130.8,261.3 133.2,270.3 135.4,261.8 137.6,267.8 139.7,244.2 141.9,253.2 143.9,263.5 146.5,237.3 148.7,259.2 150.8,266.0 153.3,280.6 155.4,266.9 157.6,276.3 159.8,270.3 161.9,259.2 164.5,272.0 167.0,250.7 169.2,257.5 171.3,264.3 173.5,273.7 175.7,272.9 178.1,261.8 180.7,257.5 182.4,254.9 184.5,253.2 186.7,256.6 188.9,256.6 191.5,259.2 193.6,245.5 195.6,282.3 198.3,259.2 200.7,277.2 202.6,264.3 204.7,275.5 206.7,266.0 209.5,260.1 211.9,270.3 214.1,271.2 216.3,272.0 218.4,274.6 220.4,255.8 223.0,275.5 225.5,256.1 227.8,278.0 229.8,263.5 232.0,271.2 234.3,269.5 236.3,279.7 238.5,267.8 240.6,264.7 242.8,269.5 244.9,272.0 247.4,266.0 249.6,270.3 251.7,271.2 253.9,269.5 256.5,256.6 258.9,267.8 261.1,268.6 263.3,270.3 265.4,269.5 267.6,267.8 270.0,266.0 272.2,260.1 274.8,268.6 276.8,270.3 279.1,271.2 281.1,269.8 283.3,270.3 285.6,267.8 287.6,255.4 289.8,267.8 291.9,269.5 294.5,270.8 296.5,271.2 298.7,270.3 301.3,268.6 303.4,266.0 305.6,261.8 307.8,266.9 309.8,268.6 312.4,269.5 314.5,267.8 316.7,264.3 319.6,256.1 321.5,269.5 323.6,266.0 325.6,262.6 327.8,271.2 330.1,266.0 332.1,266.9 334.3,258.4 336.7,270.3 338.9,272.0 341.2,270.3 343.2,272.9 345.4,250.3 347.8,271.2 350.4,255.4 352.6,270.3 354.7,272.0 356.9,272.9 359.1,272.9 361.2,272.9 363.4,271.2 366.3,261.3 368.5,266.0 370.6,271.2 372.6,267.8 374.9,273.7 377.4,268.6 379.6,265.2 381.7,259.2 383.9,269.5 386.3,263.5 388.2,269.5 390.3,264.3 392.8,279.7 395.0,251.5 397.4,259.2 399.7,270.3 401.9,271.2 404.3,265.2 406.5,270.3 408.7,276.3 410.8,266.0 413.3,253.2 415.6,269.5 417.6,261.8 419.8,274.6 422.4,266.0 424.5,270.3 426.5,272.9 428.7,269.5 431.0,266.9 433.0,273.7 435.2,270.3 437.3,269.5 439.5,266.9 441.6,276.3 444.5,259.2 446.7,271.2 448.9,272.9 451.0,267.8 453.2,275.5 455.6,271.2 457.8,266.0 460.4,261.3 462.6,272.0 464.7,278.0 466.7,264.7 469.5,276.3 471.5,270.3 473.6,272.9 475.8,257.5 478.0,271.2 480.4,274.6 482.6,281.4 484.8,259.2 487.2,272.0 489.1,269.5 491.5,262.6 493.7,272.0 496.0,276.3 498.5,266.4 500.9,274.6 503.1,278.0 505.2,275.5 507.4,269.5 509.6,283.1 511.7,272.0 513.9,274.6 516.0,278.0 518.2,276.3 520.3,277.2 522.5,279.7 525.4,264.7 527.6,276.3 529.7,278.9 531.9,278.0 533.9,280.6 536.2,281.4 538.6,272.9 540.8,280.6 543.0,282.3 545.4,281.4 547.6,281.4 549.8,280.6 551.9,279.7 554.5,270.3 556.5,279.7 558.7,280.6 561.0,279.7 563.0,285.7 565.6,270.3 567.8,281.4 569.8,267.8 572.4,283.1 574.5,282.3 576.7,280.6 578.9,279.7 581.3,279.7 583.6,279.4 585.3,278.0 587.3,224.7 590.7,284.0 592.6,276.3 594.7,270.3 596.7,276.3 598.9,274.6 601.5,263.5 603.7,275.5 605.8,274.6 608.0,273.7 610.4,272.9 612.6,270.3 614.7,271.2 616.6,261.3 619.1,265.2 621.5,273.7 623.7,274.6 626.0,275.5 628.4,275.5 630.6,276.3 632.6,260.6 634.9,273.7 636.9,272.0 639.1,275.5 641.2,272.0 643.4,279.7 645.6,272.9 647.7,271.2 650.3,268.6 652.5,274.6 654.5,271.2 657.1,289.1 659.3,262.3 661.7,274.6 663.6,264.7 666.0,276.3 668.2,274.6 670.4,277.2 672.5,271.2 674.7,269.5 677.1,271.2 679.3,267.4 681.9,278.0 683.9,278.9 686.2,279.7 688.4,280.6 691.0,284.0 693.5,265.7 695.9,281.4 698.1,276.3 699.8,272.9 702.4,278.0 704.5,279.7 706.7,281.4 708.9,276.3 711.0,267.5 713.6,275.2 715.6,277.8 717.8,279.5 720.1,276.0 722.1,279.5 724.3,278.6 726.7,270.1 728.9,276.0 731.2,279.5 733.2,278.6 735.4,275.2 737.8,278.6 740.1,275.2 742.6,269.2 744.8,277.8 746.9,279.5 749.1,281.2 751.2,280.3 753.4,280.8 755.8,276.0 758.0,270.1 760.1,274.3 762.3,279.5 764.3,297.4 766.6,253.0 768.8,277.8 770.8,263.2 773.1,261.5 775.1,266.6 777.3,269.2 779.7,268.4 782.0,277.8 784.0,280.3 786.2,281.2 788.3,274.3 789.7,270.1 791.9,277.8 793.9,280.3 796.2,281.2 798.6,277.8 800.8,280.3 802.8,277.8 804.7,270.9 807.1,278.6 809.3,281.2 811.4,282.0 813.6,282.0 815.8,281.2 817.9,279.5 820.4,269.2 823.0,280.3 825.2,279.5 827.6,276.0 829.8,280.3 832.1,278.6 834.5,277.8 836.7,270.1 838.9,276.0 841.0,281.2 843.2,276.0 845.3,287.2 847.3,278.6 849.5,282.0 851.6,267.5 853.8,281.2 856.0,275.2 858.4,282.0 860.7,280.3 862.9,282.0 864.9,284.6 867.5,274.3 869.7,271.8 871.8,282.9 874.0,282.0 876.0,280.3 878.3,281.2 880.3,279.8 883.4,263.7 885.8,280.3 888.0,279.8 890.1,279.5 892.3,279.8 894.5,281.2 896.6,276.0 899.1,270.1 901.7,277.8 903.9,280.3 906.0,280.8 908.2,279.5 910.3,278.6 912.5,277.8 914.9,267.5 917.1,276.0 919.3,276.9 921.4,277.8 923.6,276.0 925.6,276.9 927.9,276.0 929.9,280.3 932.5,262.4 934.7,260.7 937.3,241.8 939.7,309.4 941.9,276.0 943.9,276.9 946.2,276.0 948.7,270.9 951.0,277.8 953.0,278.6 955.2,277.8 957.6,276.9 959.5,275.2 961.9,260.7 964.1,276.0 966.3,276.0 968.4,275.7 971.3,275.4 973.6,276.6 975.6,274.9 977.8,267.2 980.1,274.9 982.1,275.8 984.3,276.6 986.7,276.6 988.9,280.9 990.7,285.2 993.2,268.1 995.4,279.2 997.5,280.9 999.7,277.5 1001.8,275.8 1004.0,279.2 1006.0,278.4 1008.6,265.5 1010.8,286.0 1012.9,286.9 1015.1,286.0 1017.2,286.9 1019.4,286.0 1022.3,287.8 1024.5,273.2 1026.9,286.0 1029.1,291.2 1031.2,290.3 1033.4,289.5 1035.6,286.0 1037.7,290.3 1039.7,287.8 1042.0,286.0 1044.2,279.2 1046.6,292.0 1048.8,292.9 1051.0,291.2 1053.4,290.3 1055.6,283.5 1057.9,292.9 1059.9,292.9 1062.1,293.7 1064.2,293.7 1066.4,293.7 1068.8,293.7 1071.0,294.6 1073.6,281.3 1075.8,295.5 1077.9,296.3 1080.1,295.5 1082.2,295.5 1084.4,294.6 1087.3,286.0 1089.3,313.4 1091.6,277.5 1093.8,295.5 1095.8,296.3 1098.1,294.6 1100.6,295.5 1102.4,285.2 1104.7,296.3 1107.0,298.9 1109.2,300.6 1111.2,301.4 1113.5,300.6 1115.5,299.7 1118.1,290.3 1120.7,298.0 1122.7,295.5 1124.9,299.7 1127.0,302.3 1129.2,303.1 1131.4,302.3 1134.3,294.6 1136.6,303.1 1138.6,304.9 1140.8,304.0 1142.9,304.9 1145.1,304.0 1147.2,303.1 1149.7,294.6 1152.0,304.0 1154.0,303.1 1156.2,263.0 1158.6,302.3 1160.8,305.7 1162.9,304.9 1165.5,296.3 1167.7,299.7 1169.7,308.3 1172.0,308.6 1172.9,308.3"/>
<polyline class="ser" stroke="#be4b48" points="59.1,288.3 61.3,286.2 63.6,285.7 65.8,285.7 68.2,277.7 70.4,285.7 72.6,286.2 74.8,287.4 77.2,286.6 79.5,286.2 81.5,287.4 83.6,277.7 85.8,284.0 88.4,287.4 90.6,285.7 92.8,285.2 95.0,285.7 97.2,285.7 99.5,281.4 101.5,277.2 103.7,283.1 106.3,286.6 108.5,285.2 110.8,284.9 113.1,284.9 115.4,281.4 117.6,274.6 120.0,283.1 122.2,279.7 124.3,285.7 126.5,283.1 128.7,282.3 130.8,279.7 133.2,272.9 135.4,278.0 137.6,271.2 139.7,271.2 142.2,285.2 144.4,269.5 146.8,259.2 149.1,266.0 151.1,265.2 153.3,264.3 155.4,261.8 157.6,244.7 159.8,259.2 162.4,241.2 164.5,254.1 166.5,266.0 169.2,255.8 171.3,260.9 173.5,266.0 175.7,269.5 177.8,248.9 180.7,272.0 182.9,261.8 185.0,267.8 186.7,260.9 189.3,267.8 191.3,261.8 193.6,247.2 195.6,260.1 197.8,265.2 200.1,269.5 202.1,268.6 204.2,269.8 206.4,267.8 208.6,266.9 210.7,265.2 212.7,272.0 214.9,270.3 217.2,272.9 219.2,272.0 221.4,275.5 223.5,270.3 225.5,266.0 227.8,270.3 229.8,275.5 232.0,273.7 234.3,272.0 236.3,275.5 238.5,279.7 240.6,269.5 242.8,267.4 244.9,271.2 247.4,273.7 249.6,272.9 251.7,278.0 253.9,271.2 256.5,266.0 258.9,270.3 261.1,277.2 263.3,274.6 265.4,273.7 267.6,276.3 270.0,278.0 272.6,269.1 274.8,276.3 276.8,278.0 279.1,274.6 281.1,272.9 283.3,272.0 285.6,274.6 287.6,276.3 289.8,266.0 291.9,274.6 294.5,278.0 296.5,280.1 298.7,281.4 301.3,280.6 303.4,279.7 305.6,274.6 307.8,280.6 309.8,280.6 312.4,281.4 314.5,282.3 316.7,281.4 319.6,274.6 321.5,279.7 323.6,282.3 325.6,280.6 327.8,278.9 330.1,285.7 332.1,278.0 334.3,274.6 336.7,277.2 338.9,279.7 341.2,276.3 343.2,289.1 345.8,274.6 348.4,284.9 350.4,278.0 352.6,273.7 354.7,284.0 356.9,284.0 359.1,284.0 361.2,285.7 363.4,285.7 366.3,274.6 368.5,284.9 370.6,283.1 372.6,284.0 374.9,285.7 377.4,287.4 379.5,300.3 381.7,258.4 383.9,304.5 386.0,284.0 388.2,274.6 390.6,296.8 392.8,284.9 395.0,279.7 397.4,272.0 399.7,283.1 401.9,296.8 404.3,286.6 406.5,279.7 408.7,296.8 410.8,281.4 413.3,273.7 415.6,276.3 417.6,285.7 419.8,285.7 422.4,302.8 424.5,283.1 426.5,290.8 428.4,264.3 431.8,296.0 434.2,290.0 436.4,287.4 439.0,285.7 441.6,286.6 444.5,229.3 446.7,304.5 448.9,283.1 451.0,286.6 453.2,288.6 455.6,289.1 457.8,287.4 460.4,276.3 462.6,290.8 464.7,289.1 466.7,290.0 469.5,289.6 471.5,289.1 473.6,289.1 475.8,280.6 478.0,287.4 480.4,289.6 482.6,290.8 484.8,290.8 487.2,290.8 489.1,290.0 491.5,285.7 493.7,284.9 496.0,290.8 498.5,290.3 500.9,290.0 503.1,290.0 505.2,289.6 507.4,289.6 509.6,285.7 511.7,290.0 513.9,302.0 516.5,281.4 518.5,286.6 520.8,295.1 522.8,284.0 525.4,299.4 527.6,293.4 529.7,292.6 531.9,290.0 533.9,289.1 536.2,287.4 538.6,272.0 540.8,304.5 543.0,288.3 545.4,295.1 547.6,292.6 549.8,293.4 551.9,288.3 554.5,278.9 556.5,300.3 558.7,290.0 561.0,286.6 563.0,294.3 565.6,290.8 567.8,281.4 569.8,265.2 572.4,307.9 574.5,288.3 576.7,293.4 578.9,290.0 581.3,289.6 583.6,288.3 585.6,279.7 587.8,290.8 590.7,295.1 592.6,290.0 594.7,290.0 596.7,290.3 598.9,289.6 601.5,281.4 603.7,289.1 605.8,287.4 608.0,291.7 610.4,290.8 612.6,288.3 616.0,284.9 618.6,287.4 621.2,290.0 623.7,290.8 626.0,290.0 628.4,289.6 630.6,288.6 632.6,278.4 634.9,291.7 636.9,290.0 639.1,290.0 641.2,290.8 643.4,290.8 645.6,290.0 648.2,282.3 650.3,289.1 652.5,290.8 654.5,291.4 657.1,291.7 659.3,290.8 661.7,289.1 663.6,279.4 666.0,288.3 668.2,291.7 670.4,290.0 672.5,289.1 674.7,289.1 677.1,289.1 679.7,275.5 681.9,290.8 683.9,292.6 686.2,290.8 688.4,289.1 691.0,285.7 693.0,290.0 695.2,269.8 697.6,293.4 699.8,286.6 702.1,292.6 704.5,290.8 706.7,288.3 708.9,293.4 710.6,266.6 713.2,290.6 715.3,291.1 717.8,291.8 720.1,292.3 722.1,289.7 724.3,294.0 726.7,281.2 728.9,290.6 731.2,295.7 733.2,293.1 735.4,292.3 737.8,291.4 740.1,292.3 742.6,283.7 744.8,291.4 746.9,289.7 749.1,292.3 751.2,296.6 753.4,289.7 755.8,288.9 758.0,290.6 760.1,291.4 762.3,294.0 764.3,294.9 766.6,294.0 768.8,294.0 770.8,293.1 773.4,284.6 775.6,294.0 777.7,294.0 779.7,294.0 782.0,294.9 784.2,306.8 786.2,291.4 788.3,283.7 790.5,306.8 792.7,295.7 794.8,297.4 796.8,295.7 799.1,293.1 800.8,297.4 802.8,289.7 804.7,276.0 807.1,305.1 809.3,287.2 811.5,308.5 813.9,292.3 816.2,294.0 818.4,302.6 820.8,271.8 822.7,306.8 825.2,295.7 827.3,294.9 829.5,294.9 831.6,294.0 834.1,294.0 836.3,293.1 838.4,291.4 841.3,295.7 843.6,294.9 845.6,294.0 847.8,293.1 850.1,290.6 852.1,294.0 854.7,289.7 856.7,292.3 858.9,298.3 861.2,292.3 863.2,294.0 865.4,289.7 867.5,271.8 869.7,270.1 872.6,302.6 874.8,294.9 877.2,293.1 879.5,289.7 881.5,288.0 883.7,288.9 885.8,295.7 888.0,296.6 890.1,297.4 892.3,296.6 894.5,297.4 896.6,296.6 899.5,287.2 901.7,295.7 903.9,296.6 906.0,295.7 908.2,300.8 910.3,299.1 912.5,298.3 914.9,290.6 917.1,297.4 919.3,298.3 921.4,298.6 923.6,297.4 925.6,295.7 927.9,295.7 930.3,291.4 932.5,294.9 934.7,295.7 937.3,294.9 939.7,299.1 941.9,295.7 943.9,289.7 946.5,280.3 948.7,299.1 951.0,293.1 953.0,294.0 955.2,294.0 957.6,295.7 959.5,295.7 961.9,287.2 964.1,295.7 966.3,296.6 968.4,296.6 971.3,297.2 973.6,295.5 975.6,295.5 977.8,286.0 979.5,296.3 982.1,286.9 984.3,289.5 986.7,295.5 988.9,293.7 991.2,296.3 993.2,286.0 995.8,297.2 997.5,295.5 999.7,300.6 1001.8,298.9 1004.0,297.2 1006.0,296.3 1008.3,293.7 1010.3,291.2 1013.4,286.9 1015.8,298.0 1018.0,294.6 1020.1,295.5 1022.3,294.6 1024.5,296.3 1026.9,297.2 1029.1,298.4 1031.2,296.3 1033.4,306.6 1035.6,286.0 1037.7,298.0 1039.7,297.2 1042.0,296.3 1044.5,262.1 1047.1,298.0 1049.3,309.1 1051.7,291.2 1053.6,301.4 1055.6,290.3 1057.9,298.9 1059.9,298.0 1062.5,314.3 1064.7,298.0 1066.8,295.5 1068.8,292.9 1071.0,298.0 1073.3,298.0 1075.3,300.6 1077.9,304.0 1080.1,304.9 1082.2,304.9 1084.4,303.1 1086.4,301.4 1089.0,299.7 1091.2,304.0 1093.3,307.4 1095.8,305.7 1098.1,305.7 1101.3,305.7 1102.7,297.2 1104.7,304.0 1107.0,306.6 1109.2,300.6 1111.6,310.8 1113.5,306.6 1115.5,304.9 1118.6,289.5 1120.7,304.9 1122.7,312.6 1124.9,306.6 1127.0,308.3 1129.2,308.3 1131.4,309.1 1134.3,312.6 1136.6,307.4 1138.6,308.3 1140.8,304.9 1142.9,313.4 1145.1,315.1 1147.2,315.1 1149.7,304.9 1152.0,314.3 1154.0,313.4 1156.2,319.4 1158.6,314.3 1160.8,316.0 1162.9,313.4 1165.6,303.1 1167.7,321.1 1169.7,314.3 1172.0,316.8 1172.9,317.7"/>
<g class="ser"><line x1="1195" x2="1218.7" y1="245.3" y2="245.3" stroke="#4a7ebb"/><line x1="1195" x2="1218.7" y1="269.3" y2="269.3" stroke="#98b954"/><line x1="1195" x2="1218.7" y1="293.3" y2="293.3" stroke="#be4b48"/></g>
</svg>
<div id="txt">
<div class="tt" style="left:580.5px;letter-spacing:-0.65px">Crysis 3</div>
<div class="tt" style="left:662.2px;letter-spacing:0.45px">frametimes(ms)</div>
<div class="yl" style="top:48.3px">60.000</div><div class="yl" style="top:115.6px">50.000</div><div class="yl" style="top:183.0px">40.000</div><div class="yl" style="top:250.3px">30.000</div><div class="yl" style="top:317.6px">20.000</div><div class="yl" style="top:384.9px">10.000</div><div class="yl" style="top:452.3px">0</div>
<div class="lg" style="top:237px">AMD R9 270X</div>
<div class="lg" style="top:261px;letter-spacing:-0.09px">Gigabyte GTX670 WF3</div>
<div class="lg" style="top:285px">ASUS R9 280X Matrix Platinum</div>
<svg width="1402" height="497" viewBox="0 0 1402 497"><g class="xl"><text transform="translate(60.2,467.8) rotate(-90)" text-anchor="end" dy="0.36em">1</text><text transform="translate(78.1,467.8) rotate(-90)" text-anchor="end" dy="0.36em">9</text><text transform="translate(96.0,467.8) rotate(-90)" text-anchor="end" dy="0.36em">17</text><text transform="translate(114.0,467.8) rotate(-90)" text-anchor="end" dy="0.36em">25</text><text transform="translate(131.9,467.8) rotate(-90)" text-anchor="end" dy="0.36em">33</text><text transform="translate(149.8,467.8) rotate(-90)" text-anchor="end" dy="0.36em">41</text><text transform="translate(167.7,467.8) rotate(-90)" text-anchor="end" dy="0.36em">49</text><text transform="translate(185.6,467.8) rotate(-90)" text-anchor="end" dy="0.36em">57</text><text transform="translate(203.6,467.8) rotate(-90)" text-anchor="end" dy="0.36em">65</text><text transform="translate(221.5,467.8) rotate(-90)" text-anchor="end" dy="0.36em">73</text><text transform="translate(239.4,467.8) rotate(-90)" text-anchor="end" dy="0.36em">81</text><text transform="translate(257.3,467.8) rotate(-90)" text-anchor="end" dy="0.36em">89</text><text transform="translate(275.2,467.8) rotate(-90)" text-anchor="end" dy="0.36em">97</text><text transform="translate(293.2,467.8) rotate(-90)" text-anchor="end" dy="0.36em">105</text><text transform="translate(311.1,467.8) rotate(-90)" text-anchor="end" dy="0.36em">113</text><text transform="translate(329.0,467.8) rotate(-90)" text-anchor="end" dy="0.36em">121</text><text transform="translate(346.9,467.8) rotate(-90)" text-anchor="end" dy="0.36em">129</text><text transform="translate(364.8,467.8) rotate(-90)" text-anchor="end" dy="0.36em">137</text><text transform="translate(382.7,467.8) rotate(-90)" text-anchor="end" dy="0.36em">145</text><text transform="translate(400.7,467.8) rotate(-90)" text-anchor="end" dy="0.36em">153</text><text transform="translate(418.6,467.8) rotate(-90)" text-anchor="end" dy="0.36em">161</text><text transform="translate(436.5,467.8) rotate(-90)" text-anchor="end" dy="0.36em">169</text><text transform="translate(454.4,467.8) rotate(-90)" text-anchor="end" dy="0.36em">177</text><text transform="translate(472.3,467.8) rotate(-90)" text-anchor="end" dy="0.36em">185</text><text transform="translate(490.3,467.8) rotate(-90)" text-anchor="end" dy="0.36em">193</text><text transform="translate(508.2,467.8) rotate(-90)" text-anchor="end" dy="0.36em">201</text><text transform="translate(526.1,467.8) rotate(-90)" text-anchor="end" dy="0.36em">209</text><text transform="translate(544.0,467.8) rotate(-90)" text-anchor="end" dy="0.36em">217</text><text transform="translate(561.9,467.8) rotate(-90)" text-anchor="end" dy="0.36em">225</text><text transform="translate(579.9,467.8) rotate(-90)" text-anchor="end" dy="0.36em">233</text><text transform="translate(597.8,467.8) rotate(-90)" text-anchor="end" dy="0.36em">241</text><text transform="translate(615.7,467.8) rotate(-90)" text-anchor="end" dy="0.36em">249</text><text transform="translate(633.6,467.8) rotate(-90)" text-anchor="end" dy="0.36em">257</text><text transform="translate(651.5,467.8) rotate(-90)" text-anchor="end" dy="0.36em">265</text><text transform="translate(669.5,467.8) rotate(-90)" text-anchor="end" dy="0.36em">273</text><text transform="translate(687.4,467.8) rotate(-90)" text-anchor="end" dy="0.36em">281</text><text transform="translate(705.3,467.8) rotate(-90)" text-anchor="end" dy="0.36em">289</text><text transform="translate(723.2,467.8) rotate(-90)" text-anchor="end" dy="0.36em">297</text><text transform="translate(741.1,467.8) rotate(-90)" text-anchor="end" dy="0.36em">305</text><text transform="translate(759.1,467.8) rotate(-90)" text-anchor="end" dy="0.36em">313</text><text transform="translate(777.0,467.8) rotate(-90)" text-anchor="end" dy="0.36em">321</text><text transform="translate(794.9,467.8) rotate(-90)" text-anchor="end" dy="0.36em">329</text><text transform="translate(812.8,467.8) rotate(-90)" text-anchor="end" dy="0.36em">337</text><text transform="translate(830.7,467.8) rotate(-90)" text-anchor="end" dy="0.36em">345</text><text transform="translate(848.7,467.8) rotate(-90)" text-anchor="end" dy="0.36em">353</text><text transform="translate(866.6,467.8) rotate(-90)" text-anchor="end" dy="0.36em">361</text><text transform="translate(884.5,467.8) rotate(-90)" text-anchor="end" dy="0.36em">369</text><text transform="translate(902.4,467.8) rotate(-90)" text-anchor="end" dy="0.36em">377</text><text transform="translate(920.3,467.8) rotate(-90)" text-anchor="end" dy="0.36em">385</text><text transform="translate(938.2,467.8) rotate(-90)" text-anchor="end" dy="0.36em">393</text><text transform="translate(956.2,467.8) rotate(-90)" text-anchor="end" dy="0.36em">401</text><text transform="translate(974.1,467.8) rotate(-90)" text-anchor="end" dy="0.36em">409</text><text transform="translate(992.0,467.8) rotate(-90)" text-anchor="end" dy="0.36em">417</text><text transform="translate(1009.9,467.8) rotate(-90)" text-anchor="end" dy="0.36em">425</text><text transform="translate(1027.8,467.8) rotate(-90)" text-anchor="end" dy="0.36em">433</text><text transform="translate(1045.8,467.8) rotate(-90)" text-anchor="end" dy="0.36em">441</text><text transform="translate(1063.7,467.8) rotate(-90)" text-anchor="end" dy="0.36em">449</text><text transform="translate(1081.6,467.8) rotate(-90)" text-anchor="end" dy="0.36em">457</text><text transform="translate(1099.5,467.8) rotate(-90)" text-anchor="end" dy="0.36em">465</text><text transform="translate(1117.4,467.8) rotate(-90)" text-anchor="end" dy="0.36em">473</text><text transform="translate(1135.4,467.8) rotate(-90)" text-anchor="end" dy="0.36em">481</text><text transform="translate(1153.3,467.8) rotate(-90)" text-anchor="end" dy="0.36em">489</text><text transform="translate(1171.2,467.8) rotate(-90)" text-anchor="end" dy="0.36em">497</text></g></svg>
</div>
<div id="bt"></div><div id="bl"></div>
</body></html>
